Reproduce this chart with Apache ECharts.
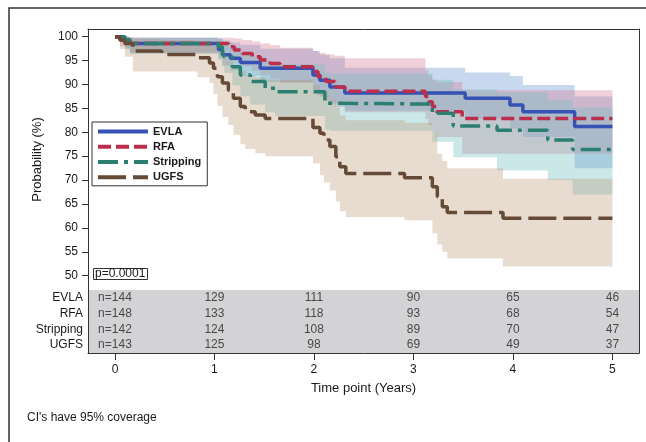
<!DOCTYPE html>
<html><head><meta charset="utf-8">
<script src="https://cdn.jsdelivr.net/npm/echarts@6/dist/echarts.min.js"></script>
<style>html,body{margin:0;padding:0;background:#fff}#c{width:646px;height:442px}</style>
</head><body><div id="c"></div>
<script>
// ---------- data ----------
const groups = ['EVLA', 'RFA', 'Stripping', 'UGFS'];

const evlaT  = [0, 0.1, 0.15, 1.04, 1.08, 1.16, 1.26, 1.46, 1.99, 2.06, 2.16, 2.31, 3.52, 3.97, 4.1, 4.62, 5.0];
const evlaS  = [100, 99.3, 98.6, 97.3, 96.2, 95.5, 94.6, 93.4, 92.0, 90.9, 89.5, 88.2, 87.1, 85.7, 84.3, 81.2, 81.2];
const evlaLo = [100, 97.5, 96.5, 95.5, 94.0, 93.0, 91.8, 90.5, 88.8, 87.5, 86.0, 84.5, 82.8, 80.8, 79.0, 72.5, 72.5];
const evlaHi = [100, 100, 99.8, 99.5, 99.2, 98.8, 98.3, 97.5, 97.0, 96.2, 95.5, 93.5, 92.5, 91.8, 89.9, 87.5, 87.5];

const rfaT  = [0, 0.05, 0.15, 1.14, 1.2, 1.28, 1.38, 1.46, 1.56, 1.66, 1.99, 2.04, 2.12, 2.21, 2.31, 3.12, 3.15, 3.19, 3.23, 3.49, 5.0];
const rfaS  = [100, 99.3, 98.6, 97.9, 97.2, 96.5, 95.8, 95.1, 94.4, 93.7, 92.7, 91.6, 90.6, 89.5, 88.6, 87.5, 86.4, 85.4, 84.3, 82.9, 82.9];
const rfaLo = [100, 98.0, 96.8, 95.8, 94.8, 93.8, 92.8, 92.0, 91.2, 90.3, 89.0, 87.8, 86.6, 85.3, 84.2, 82.8, 81.5, 80.2, 79.0, 75.5, 75.5];
const rfaHi = [100, 100, 99.8, 99.8, 99.6, 99.3, 99.0, 98.6, 98.2, 97.7, 97.0, 96.6, 96.3, 96.0, 95.5, 93.0, 92.0, 91.0, 90.5, 88.8, 88.8];

const strT  = [0, 0.1, 0.15, 1.04, 1.08, 1.1, 1.18, 1.26, 1.36, 1.51, 1.61, 2.11, 2.16, 3.19, 3.4, 3.84, 4.35, 4.6, 5.0];
const strS  = [100, 99.3, 98.6, 97.9, 96.9, 95.8, 93.7, 92.0, 90.6, 89.2, 88.5, 86.1, 85.9, 84.0, 81.3, 80.4, 78.4, 76.4, 76.4];
const strLo = [100, 97.5, 96.5, 95.2, 93.8, 92.4, 89.8, 87.5, 85.8, 84.2, 83.4, 80.6, 80.3, 78.0, 74.8, 72.0, 70.0, 67.0, 67.0];
const strHi = [100, 100, 99.8, 99.6, 99.2, 98.8, 97.8, 96.8, 95.8, 94.8, 94.3, 92.5, 92.3, 91.0, 89.0, 88.3, 86.8, 85.2, 85.2];

const ugfsT  = [0, 0.05, 0.1, 0.18, 0.47, 0.83, 0.95, 0.99, 1.03, 1.08, 1.14, 1.19, 1.26, 1.31, 1.41, 1.51, 1.99, 2.06, 2.1, 2.16, 2.22, 2.26, 2.32, 2.91, 3.19, 3.24, 3.29, 3.34, 3.9, 5.0];
const ugfsS  = [100, 99.3, 98.6, 97.0, 96.3, 95.6, 94.5, 93.4, 91.6, 90.3, 88.8, 87.1, 85.4, 84.3, 83.6, 82.9, 81.0, 79.8, 78.4, 77.0, 74.9, 72.8, 71.4, 70.5, 68.6, 66.5, 64.4, 63.2, 62.0, 62.0];
const ugfsLo = [100, 97.5, 95.8, 92.7, 92.7, 91.5, 90.3, 88.0, 85.5, 83.2, 81.5, 79.5, 77.5, 76.5, 75.6, 75.0, 73.5, 71.0, 69.5, 67.8, 65.5, 63.5, 62.3, 61.6, 58.9, 56.5, 55.0, 53.6, 51.9, 51.9];
const ugfsHi = [100, 100, 99.9, 99.5, 99.3, 99.0, 98.5, 98.0, 97.0, 96.2, 95.2, 94.0, 92.8, 92.0, 91.5, 91.0, 89.8, 88.8, 87.8, 86.8, 85.2, 83.5, 82.5, 82.0, 80.2, 75.5, 74.0, 72.5, 70.3, 70.3];

const riskTimes = [0, 1, 2, 3, 4, 5];
const riskEVLA = [144, 129, 111, 90, 65, 46];
const riskRFA  = [148, 133, 118, 93, 68, 54];
const riskStr  = [142, 124, 108, 89, 70, 47];
const riskUGFS = [143, 125, 98, 69, 49, 37];

const yTicks = [50, 55, 60, 65, 70, 75, 80, 85, 90, 95, 100];
const xTicks = [0, 1, 2, 3, 4, 5];

// ---------- styles ----------
const FONT = '"Liberation Sans", Arial, sans-serif';
const lineColors = ['#3552b4', '#bc2f4c', '#2a7f70', '#644a37'];
const dashes = ['solid', [13, 5], [20, 6, 4, 6], [28, 7]];
const bandFills = ['rgba(105,148,212,0.37)', 'rgba(212,130,152,0.38)', 'rgba(116,190,190,0.37)', 'rgba(180,142,108,0.31)'];

const curves = [
  [evlaT, evlaS, evlaLo, evlaHi],
  [rfaT, rfaS, rfaLo, rfaHi],
  [strT, strS, strLo, strHi],
  [ugfsT, ugfsS, ugfsLo, ugfsHi]
];
const risks = [riskEVLA, riskRFA, riskStr, riskUGFS];

const series = [];
curves.forEach((c, g) => {
  const [t, s, lo, hi] = c;
  const n = t.length;
  series.push({
    type: 'custom', name: groups[g] + ' CI', xAxisIndex: 0, yAxisIndex: 0,
    silent: true, z: 1,
    data: t.map((x, i) => [x, lo[i], hi[i]]),
    encode: { x: 0, y: [1, 2] },
    renderItem: (params, api) => {
      if (params.dataIndex !== 0) return null;
      const pts = [];
      for (let i = 0; i < n; i++) {
        pts.push(api.coord([t[i], hi[i]]));
        if (i < n - 1) pts.push(api.coord([t[i + 1], hi[i]]));
      }
      for (let i = n - 1; i >= 0; i--) {
        if (i < n - 1) pts.push(api.coord([t[i + 1], lo[i]]));
        pts.push(api.coord([t[i], lo[i]]));
      }
      return { type: 'polygon', shape: { points: pts }, style: { fill: bandFills[g], stroke: null } };
    }
  });
});
curves.forEach((c, g) => {
  const [t, s] = c;
  series.push({
    type: 'line', name: groups[g], xAxisIndex: 0, yAxisIndex: 0,
    step: 'end', symbol: 'none', z: 3, silent: true,
    itemStyle: { color: lineColors[g] },
    lineStyle: { color: lineColors[g], width: 3.5, type: dashes[g], cap: 'butt' },
    data: t.map((x, i) => [x, s[i]])
  });
});
risks.forEach((r, g) => {
  series.push({
    type: 'scatter', name: groups[g] + ' at risk', xAxisIndex: 1, yAxisIndex: 2,
    symbol: 'circle', symbolSize: 1, silent: true,
    itemStyle: { color: 'rgba(0,0,0,0)' },
    label: {
      show: true, position: 'inside', color: '#262626', fontSize: 12, fontFamily: FONT,
      formatter: p => p.value[2]
    },
    data: riskTimes.map((x, i) => [x, groups[g], (i === 0 ? 'n=' : '') + r[i]])
  });
});

const XMIN = -0.271, XMAX = 5.267, YMIN = 47.0, YMAX = 101.61;
const axisLineStyle = { show: true, onZero: false, lineStyle: { color: '#333', width: 1 } };

const option = {
  animation: false,
  textStyle: { fontFamily: FONT },
  grid: [
    { left: 88, top: 29, width: 551, height: 261, outerBoundsMode: 'none' },
    { left: 88, top: 290, width: 551, height: 63, show: true, backgroundColor: '#d3d3d5', borderWidth: 0, outerBoundsMode: 'none' }
  ],
  xAxis: [
    { type: 'value', gridIndex: 0, min: XMIN, max: XMAX, position: 'top',
      axisLine: axisLineStyle, axisTick: { show: false }, axisLabel: { show: false }, splitLine: { show: false } },
    { type: 'value', gridIndex: 1, min: XMIN, max: XMAX, position: 'bottom',
      axisLine: axisLineStyle,
      axisTick: { show: true, length: 7, customValues: xTicks, lineStyle: { color: '#333' } },
      axisLabel: { show: true, customValues: xTicks, margin: 11, fontSize: 12, color: '#1a1a1a', fontFamily: FONT },
      splitLine: { show: false },
      name: 'Time point (Years)', nameLocation: 'middle', nameGap: 29,
      nameTextStyle: { fontSize: 13, color: '#1a1a1a', fontFamily: FONT } }
  ],
  yAxis: [
    { type: 'value', gridIndex: 0, min: YMIN, max: YMAX, position: 'left',
      axisLine: axisLineStyle,
      axisTick: { show: true, length: 6, customValues: yTicks, lineStyle: { color: '#333' } },
      axisLabel: { show: true, customValues: yTicks, margin: 10, fontSize: 12, color: '#1a1a1a', fontFamily: FONT },
      splitLine: { show: false },
      name: 'Probability (%)', nameLocation: 'middle', nameGap: 44, nameRotate: 90,
      nameTextStyle: { fontSize: 13, color: '#1a1a1a', fontFamily: FONT } },
    { type: 'value', gridIndex: 0, min: YMIN, max: YMAX, position: 'right',
      axisLine: axisLineStyle, axisTick: { show: false }, axisLabel: { show: false }, splitLine: { show: false } },
    { type: 'category', gridIndex: 1, data: groups, inverse: true, position: 'left',
      axisLine: axisLineStyle, axisTick: { show: false },
      axisLabel: { margin: 5, fontSize: 12, color: '#1a1a1a', fontFamily: FONT }, splitLine: { show: false } },
    { type: 'value', gridIndex: 1, min: 0, max: 1, position: 'right',
      axisLine: axisLineStyle, axisTick: { show: false }, axisLabel: { show: false }, splitLine: { show: false } }
  ],
  legend: {
    data: groups, orient: 'vertical', left: 92, top: 122,
    backgroundColor: '#fff', borderColor: '#333', borderWidth: 1,
    padding: [4, 6, 3, 4], itemWidth: 50, itemHeight: 14, itemGap: 4,
    selectedMode: false,
    lineStyle: { width: 4 },
    itemStyle: { opacity: 0 },
    textStyle: { fontSize: 11, fontWeight: 'bold', color: '#1a1a1a', fontFamily: FONT }
  },
  title: [
    { text: 'p=0.0001', left: 93, top: 268, borderColor: '#333', borderWidth: 1, padding: [0, 2],
      textStyle: { fontSize: 12, fontWeight: 'normal', color: '#1a1a1a', fontFamily: FONT } },
    { text: "CI's have 95% coverage", left: 27, top: 412, padding: 0,
      textStyle: { fontSize: 12, fontWeight: 'normal', color: '#1a1a1a', fontFamily: FONT } }
  ],
  graphic: [
    { type: 'rect', silent: true, z: -10,
      shape: { x: 9, y: 8, width: 700, height: 500 },
      style: { fill: 'none', stroke: '#333', lineWidth: 1.5 } }
  ],
  series: series
};

const chart = echarts.init(document.getElementById('c'), null, { renderer: 'canvas' });
chart.setOption(option);
</script>
</body></html>
